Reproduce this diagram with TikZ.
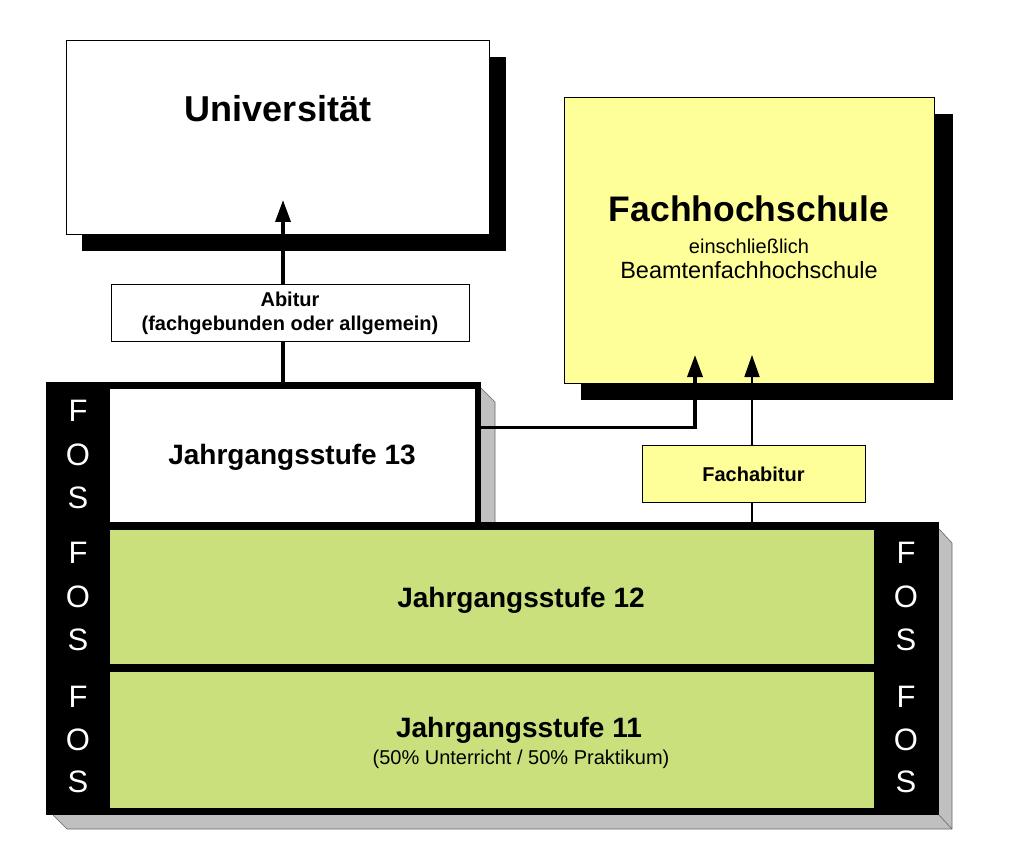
\documentclass[tikz,border=0pt]{standalone}
\usepackage{fontspec}
\setmainfont{Liberation Sans}
\usetikzlibrary{arrows.meta}
\definecolor{fhgelb}{HTML}{FFFF99}
\definecolor{fosgruen}{RGB}{201,224,125}
\definecolor{schatten}{HTML}{C0C0C0}
\begin{document}
\begin{tikzpicture}[x=1pt,y=-1pt,
  box/.style={draw,line width=1pt,inner sep=0pt},
  feld/.style={inner sep=0pt,anchor=north west},
  pfeil/.style={line width=3.5pt,-{Triangle[length=22pt,width=15pt]}},
  duennpfeil/.style={line width=1.8pt,-{Triangle[length=22pt,width=15pt]}},
  fos/.style={text=white,font=\fontsize{31}{31}\selectfont},
  titel/.style={anchor=base,font=\fontsize{28}{28}\bfseries}]
  \useasboundingbox (0,0) rectangle (1028,850);
  % Universitaet
  \fill (82,57) rectangle (506,251);
  \node[box,fill=white,minimum width=423pt,minimum height=194pt,anchor=north west] (uni) at (66,40) {};
  \node[anchor=base,font=\fontsize{36}{36}\bfseries] (unitext) at (278,122) {Universität};
  % Fachhochschule
  \fill (581,114) rectangle (953,400);
  \node[box,fill=fhgelb,minimum width=370pt,minimum height=286pt,anchor=north west] (fh) at (564,97) {};
  \node[anchor=base,font=\fontsize{35.5}{35.5}\bfseries] (fhtext) at (749,222) {Fachhochschule};
  \node[anchor=base,font=\fontsize{20}{20}\selectfont] (fhzusatz) at (749,254) {einschließlich};
  \node[anchor=base,font=\fontsize{23.5}{23.5}\selectfont] (fhbeamte) at (749,279) {Beamtenfachhochschule};
  % Abschluesse
  \node[box,fill=white,minimum width=358pt,minimum height=56pt,align=center,
        font=\fontsize{20}{24}\bfseries] (abitur) at (290,313) {Abitur\\(fachgebunden oder allgemein)};
  \node[box,fill=fhgelb,minimum width=223pt,minimum height=57pt,
        font=\fontsize{20}{20}\bfseries] (fachabi) at (753.5,474) {Fachabitur};
  % Schatten der FOS
  \fill[schatten] (481,388) -- (495,402) -- (495,522) -- (481,522) -- cycle;
  \draw[black!60,line width=0.6pt] (481,388) -- (495,402) -- (495,522);
  \fill[schatten] (53,815) -- (67,829) -- (952,829) -- (952,543) -- (939,529) -- (939,815) -- cycle;
  \draw[black!60,line width=0.6pt] (53,815) -- (67,829) -- (952,829) -- (952,543) -- (939,529);
  \draw[black!60,line width=0.6pt] (939,815) -- (952,829);
  % FOS
  \fill (46,382) rectangle (481,522);
  \fill (46,522) rectangle (939,815);
  \node[feld,fill=white,minimum width=365pt,minimum height=133pt] (js13) at (110,389) {};
  \node[feld,fill=fosgruen,minimum width=764pt,minimum height=134pt] (js12) at (110,530) {};
  \node[feld,fill=fosgruen,minimum width=764pt,minimum height=136pt] (js11) at (110,672) {};
  \node[titel] (js13text) at (292,464) {Jahrgangsstufe 13};
  \node[titel] (js12text) at (521,607) {Jahrgangsstufe 12};
  \node[titel] (js11text) at (519,737) {Jahrgangsstufe 11};
  \node[anchor=base,font=\fontsize{20}{20}\selectfont] (praktikum) at (521,764) {(50\% Unterricht / 50\% Praktikum)};
  \foreach \y/\c in {411/F,455/O,498/S,553/F,597/O,640/S,697/F,740/O,782/S}
    \node[fos] (fosl\y) at (78,\y) {\c};
  \foreach \y/\c in {553/F,597/O,640/S,697/F,740/O,782/S}
    \node[fos] (fosr\y) at (906,\y) {\c};
  % Verbindungen
  \coordinate (unipfeil) at (283,200);
  \coordinate (fhlinks) at (695,355);
  \coordinate (fhrechts) at (752,355);
  \draw[pfeil] (unipfeil |- abitur.north) -- (unipfeil);
  \draw[line width=3.5pt] (unipfeil |- abitur.south) -- (unipfeil |- js13.north);
  \draw[pfeil] (js13.east) ++(0,-28) -| (fhlinks);
  \draw[duennpfeil] (fhrechts |- fachabi.north) -- (fhrechts);
  \draw[line width=1.8pt] (fhrechts |- fachabi.south) -- (fhrechts |- js12.north);
\end{tikzpicture}
\end{document}
